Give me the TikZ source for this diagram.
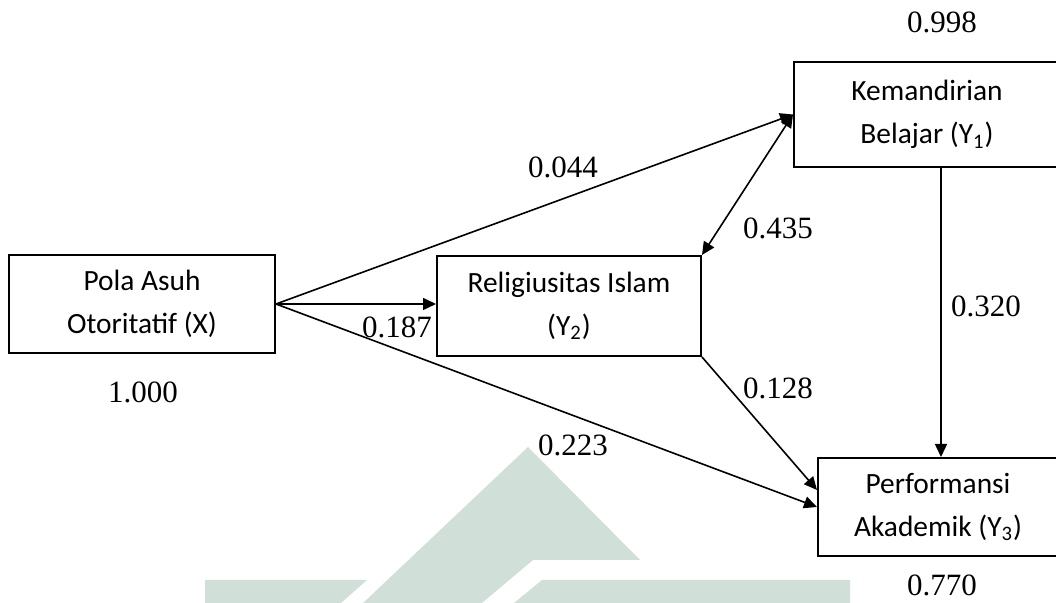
\documentclass[tikz,border=0pt]{standalone}
\usepackage{fontspec}
\setmainfont{Liberation Serif}
\newfontfamily\boxfont{Carlito}
\usetikzlibrary{arrows.meta,positioning,calc}
\definecolor{semedge}{RGB}{0,0,0}
\definecolor{semmark}{RGB}{208,224,216}
\tikzset{
  sembox/.style={
    draw=semedge, line width=1pt, align=center, inner sep=0pt,
    font=\boxfont\fontsize{14.7}{21.5}\selectfont
  },
  arr/.style={->, draw=semedge, line width=0.8pt},
  darr/.style={<->, draw=semedge, line width=0.8pt},
  coef/.style={font=\fontsize{15.5}{18}\selectfont, inner sep=0pt}
}

\begin{document}
\begin{tikzpicture}[x=0.5pt,y=-0.5pt,>={Triangle[length=6.5pt,width=6pt]}]
  \useasboundingbox (0,0) rectangle (1056,603);
  % faint mark behind the model
  \fill[semmark] (528,447) -- (640,560) -- (533,560) -- (482,603) -- (363,603) -- cycle;
  \fill[semmark] (205,580) -- (367,580) -- (341,603) -- (205,603) -- cycle;
  \fill[semmark] (542,580) -- (850,580) -- (850,603) -- (514,603) -- cycle;

  \node[sembox, minimum width=133pt, minimum height=49pt] (polaasuh) at (142,304) {Pola Asuh\\Otoritatif (X)};
  \node[sembox, minimum width=132pt, minimum height=50pt] (religi) at (569,306) {Religiusitas Islam\\(Y\textsubscript{2})};
  \node[sembox, minimum width=133pt, minimum height=52.5pt] (mandiri) at (927,114.5) {Kemandirian\\Belajar (Y\textsubscript{1})};
  \node[sembox, minimum width=120pt, minimum height=49pt] (perform) at (938,507) {Performansi\\Akademik (Y\textsubscript{3})};

  \draw[arr] (polaasuh.east) -- (mandiri.west);
  \draw[arr] (polaasuh.east) -- (polaasuh.east -| religi.west);
  \draw[arr] (polaasuh.east) -- (perform.west);
  \draw[darr] (mandiri.west) -- (religi.north east);
  \draw[arr] (religi.south east) -- ([yshift=8.5pt]perform.west);
  \draw[arr] ([xshift=7pt]mandiri.south) -- ([xshift=7pt]mandiri.south |- perform.north);

  \node[coef] (rpola) at (143,392) {1.000};
  \node[coef] (rmandiri) at (942,22) {0.998};
  \node[coef] (rperform) at (942,585) {0.770};
  \node[coef] (cxy1) at (563,167) {0.044};
  \node[coef] (cxy2) at (397,327) {0.187};
  \node[coef] (cy1y2) at (778,228) {0.435};
  \node[coef] (cy2y3) at (778,388) {0.128};
  \node[coef] (cxy3) at (573,445) {0.223};
  \node[coef] (cy1y3) at (986,306) {0.320};
\end{tikzpicture}
\end{document}
